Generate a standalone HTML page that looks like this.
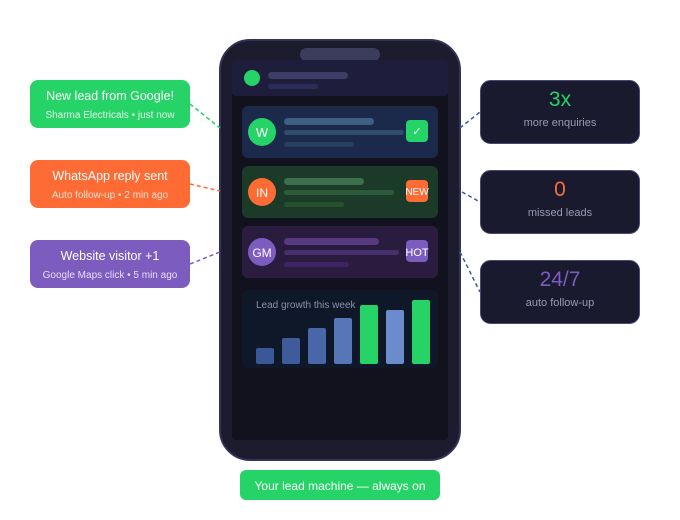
<!DOCTYPE html>
<html><head><meta charset="utf-8"><style>body{margin:0;background:#fff}svg{display:block;font-family:"Liberation Sans",sans-serif}</style></head><body>
<svg width="680" height="520" viewBox="0 0 680 520">
<rect x="220" y="40" width="240" height="420" rx="30" fill="#1c1c2e" stroke="#33335a" stroke-width="2"/>
<rect x="300" y="48" width="80" height="13" rx="6.5" fill="#3c3c5c"/>
<rect x="232" y="60" width="216" height="380" rx="4" fill="#12121e"/>
<rect x="232" y="60" width="216" height="36" rx="4" fill="#1e1e3c"/>
<circle cx="252" cy="78" r="8" fill="#25d366"/>
<rect x="268" y="72" width="80" height="7" rx="3.5" fill="#3d3d68"/>
<rect x="268" y="84" width="50" height="5" rx="2.5" fill="#2c2c58"/>
<rect x="242" y="106" width="196" height="52" rx="6" fill="#1b2a4a"/>
<circle cx="262" cy="132" r="14" fill="#25d366"/><text x="262" y="137" font-size="13" fill="#fff" text-anchor="middle">W</text>
<rect x="284" y="118" width="90" height="7" rx="3.5" fill="#3d5f84"/>
<rect x="284" y="130" width="120" height="5" rx="2.5" fill="#2f4b6e"/>
<rect x="284" y="142" width="70" height="5" rx="2.5" fill="#25405e"/>
<rect x="406" y="120" width="22" height="22" rx="4" fill="#25d366"/><text x="417" y="135" font-size="11" fill="#fff" text-anchor="middle">✓</text>
<rect x="242" y="166" width="196" height="52" rx="6" fill="#1c3a28"/>
<circle cx="262" cy="192" r="14" fill="#ff6b35"/><text x="262" y="197" font-size="12" fill="#fff" text-anchor="middle">IN</text>
<rect x="284" y="178" width="80" height="7" rx="3.5" fill="#3d6f4e"/>
<rect x="284" y="190" width="110" height="5" rx="2.5" fill="#2e5a3c"/>
<rect x="284" y="202" width="60" height="5" rx="2.5" fill="#27502f"/>
<rect x="406" y="180" width="22" height="22" rx="4" fill="#ff6b35"/><text x="417" y="195" font-size="10" fill="#fff" text-anchor="middle">NEW</text>
<rect x="242" y="226" width="196" height="52" rx="6" fill="#2a1c3e"/>
<circle cx="262" cy="252" r="14" fill="#7c5cbf"/><text x="262" y="257" font-size="12" fill="#fff" text-anchor="middle">GM</text>
<rect x="284" y="238" width="95" height="7" rx="3.5" fill="#573a80"/>
<rect x="284" y="250" width="115" height="5" rx="2.5" fill="#46306e"/>
<rect x="284" y="262" width="65" height="5" rx="2.5" fill="#3e2466"/>
<rect x="406" y="240" width="22" height="22" rx="4" fill="#7c5cbf"/><text x="417" y="256" font-size="11" fill="#fff" text-anchor="middle">HOT</text>
<rect x="242" y="290" width="196" height="78" rx="6" fill="#0e1828"/>
<text x="256" y="308" font-size="10" fill="#8a93a8">Lead growth this week</text>
<rect x="256" y="348" width="18" height="16" rx="2" fill="#3a5898"/>
<rect x="282" y="338" width="18" height="26" rx="2" fill="#3e5c9c"/>
<rect x="308" y="328" width="18" height="36" rx="2" fill="#4866a8"/>
<rect x="334" y="318" width="18" height="46" rx="2" fill="#5676b8"/>
<rect x="360" y="305" width="18" height="59" rx="2" fill="#25d366"/>
<rect x="386" y="310" width="18" height="54" rx="2" fill="#6a8ccc"/>
<rect x="412" y="300" width="18" height="64" rx="2" fill="#25d366"/>
<rect x="240" y="470" width="200" height="30" rx="6" fill="#25d366"/>
<text x="340" y="490" font-size="12" fill="#fff" text-anchor="middle">Your lead machine — always on</text>
<g stroke-dasharray="4 3" stroke-width="1.5" fill="none">
<path d="M190 104 L220 128" stroke="#25d366"/>
<path d="M190 184 L220 191" stroke="#ff6b35"/>
<path d="M190 264 L220 252" stroke="#7c5cbf"/>
<path d="M460 128 L480 112" stroke="#3d5c9c"/>
<path d="M462 192 L480 202" stroke="#3d5c9c"/>
<path d="M460 252 L480 292" stroke="#3d5c9c"/>
</g>
<rect x="30" y="80" width="160" height="48" rx="8" fill="#25d366"/>
<text x="110" y="100" font-size="12.5" fill="#fff" text-anchor="middle">New lead from Google!</text>
<text x="110" y="118" font-size="10" fill="#e0f7e8" text-anchor="middle">Sharma Electricals • just now</text>
<rect x="30" y="160" width="160" height="48" rx="8" fill="#ff6b35"/>
<text x="110" y="180" font-size="12.5" fill="#fff" text-anchor="middle">WhatsApp reply sent</text>
<text x="110" y="198" font-size="10" fill="#ffe0d0" text-anchor="middle">Auto follow-up • 2 min ago</text>
<rect x="30" y="240" width="160" height="48" rx="8" fill="#7c5cbf"/>
<text x="110" y="260" font-size="12.5" fill="#fff" text-anchor="middle">Website visitor +1</text>
<text x="110" y="278" font-size="10" fill="#e6defa" text-anchor="middle">Google Maps click • 5 min ago</text>
<g fill="#1a1a2e" stroke="#4a4a78" stroke-width="1">
<rect x="480.5" y="80.5" width="159" height="63" rx="10"/>
<rect x="480.5" y="170.5" width="159" height="63" rx="10"/>
<rect x="480.5" y="260.5" width="159" height="63" rx="10"/>
</g>
<text x="560" y="106" font-size="21" fill="#25d366" text-anchor="middle">3x</text>
<text x="560" y="126" font-size="11" fill="#9a9ab8" text-anchor="middle">more enquiries</text>
<text x="560" y="196" font-size="21" fill="#ff6b35" text-anchor="middle">0</text>
<text x="560" y="216" font-size="11" fill="#9a9ab8" text-anchor="middle">missed leads</text>
<text x="560" y="286" font-size="21" fill="#7c5cbf" text-anchor="middle">24/7</text>
<text x="560" y="306" font-size="11" fill="#9a9ab8" text-anchor="middle">auto follow-up</text>
</svg>
</body></html>
